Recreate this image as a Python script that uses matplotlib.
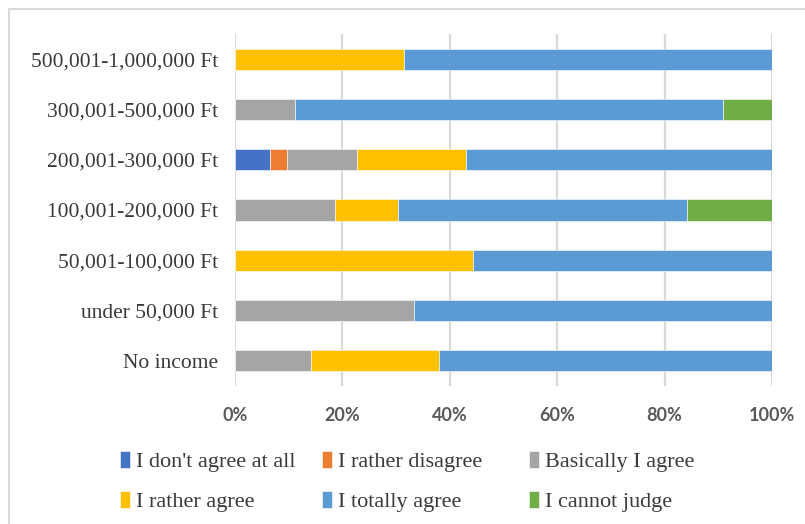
import matplotlib
matplotlib.use("Agg")
import matplotlib.pyplot as plt
from matplotlib.patches import Rectangle
import numpy as np

# Income groups, bottom to top
categories = ["No income", "under 50,000 Ft", "50,001-100,000 Ft",
              "100,001-200,000 Ft", "200,001-300,000 Ft",
              "300,001-500,000 Ft", "500,001-1,000,000 Ft"]

series_names = ["I don't agree at all", "I rather disagree", "Basically I agree",
                "I rather agree", "I totally agree", "I cannot judge"]

# Share of answers (%) per income group, same order as categories
dont_agree      = [0.0, 0.0, 0.0, 0.0, 6.5, 0.0, 0.0]
rather_disagree = [0.0, 0.0, 0.0, 0.0, 3.2, 0.0, 0.0]
basically_agree = [14.2, 33.3, 0.0, 18.7, 13.0, 11.2, 0.0]
rather_agree    = [23.8, 0.0, 44.4, 11.6, 20.3, 0.0, 31.5]
totally_agree   = [62.0, 66.7, 55.6, 53.8, 57.0, 79.6, 68.5]
cannot_judge    = [0.0, 0.0, 0.0, 15.9, 0.0, 9.2, 0.0]

tick_values = [0, 20, 40, 60, 80, 100]
tick_labels = ["0%", "20%", "40%", "60%", "80%", "100%"]

colors = ["#4472C4", "#ED7D31", "#A5A5A5", "#FFC000", "#5B9BD5", "#70AD47"]

W, H, DPI = 805, 524, 100
fig = plt.figure(figsize=(W / DPI, H / DPI), dpi=DPI)

# plot area in pixel coordinates
x0, x1 = 235, 772
y_top, y_bot = 34, 386
ax = fig.add_axes([x0 / W, 1 - y_bot / H, (x1 - x0) / W, (y_bot - y_top) / H])

series = [dont_agree, rather_disagree, basically_agree,
          rather_agree, totally_agree, cannot_judge]
y = np.arange(len(categories))
left = np.zeros(len(categories))
for name, vals, c in zip(series_names, series, colors):
    vals = np.array(vals, dtype=float)
    ax.barh(y, vals, left=left, height=0.42, color=c, label=name,
            edgecolor="white", linewidth=0.4, zorder=3)
    left += vals

text_color = "#3A3A3A"
ax.set_xlim(0, 100)
ax.set_ylim(-0.5, len(categories) - 0.5)
ax.set_xticks(tick_values)
ax.set_xticklabels(tick_labels, fontsize=13, fontweight="bold",
                   color="#595959", family="Lato")
ax.set_yticks(y)
ax.set_yticklabels(categories, fontsize=15.5, color=text_color,
                   family="Liberation Serif")
ax.tick_params(axis="x", length=0, pad=15)
ax.tick_params(axis="y", length=0, pad=12)
for s in ax.spines.values():
    s.set_visible(False)
ax.grid(axis="x", color="#D9D9D9", linewidth=1.6, zorder=0)
ax.set_axisbelow(True)

# legend: three equal-width columns, filled row by row
handles, labels = ax.get_legend_handles_labels()
col_x = [113, 315, 522]
for k, cx in enumerate(col_x):
    leg = fig.legend([handles[k], handles[k + 3]], [labels[k], labels[k + 3]],
                     loc="upper left", bbox_to_anchor=(cx / W, 1 - 444 / H),
                     frameon=False, handlelength=0.45, handleheight=0.8,
                     handletextpad=0.3, labelspacing=0.86,
                     borderaxespad=0, borderpad=0.3,
                     prop={"family": "Liberation Serif", "size": 16})
    for t in leg.get_texts():
        t.set_color(text_color)

# chart frame
fig.patches.append(Rectangle((9 / W, -0.1), 1.2, 1 - 9 / H + 0.1,
                             transform=fig.transFigure, fill=False,
                             edgecolor="#D9D9D9", linewidth=1.5))

fig.savefig("out.png", dpi=DPI)
